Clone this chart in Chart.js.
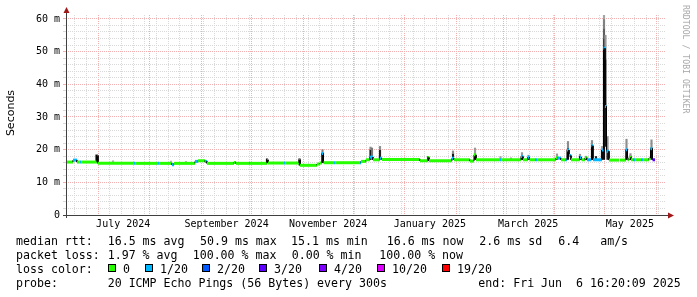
<!DOCTYPE html>
<html>
<head>
<meta charset="utf-8">
<script src="https://cdn.jsdelivr.net/npm/chart.js@4.4.1/dist/chart.umd.min.js"></script>
<style>
  body { margin: 0; background: #fff; }
  #wrap { position: relative; width: 697px; height: 297px; overflow: hidden;
          font-family: 'DejaVu Sans Mono', monospace; font-size: 11.6px; color: #000; }
  #wrap canvas { position: absolute; left: 0; top: 0; }
  .t { position: absolute; white-space: pre; line-height: 14px; }
  .box { position: absolute; width: 6px; height: 6px; border: 1px solid #000; }
  #ylab { position: absolute; left: -13px; top: 106px; width: 48px; height: 14px; line-height: 14px;
          text-align: center; font-family: 'DejaVu Sans', sans-serif; font-size: 11px; color: #000;
          white-space: nowrap; transform: rotate(-90deg); }
  #mark { position: absolute; left: 632px; top: 54px; width: 108px; height: 10px; line-height: 10px;
          text-align: center; font-size: 8.2px; color: #a8a8a8;
          white-space: nowrap; transform: rotate(90deg); }
</style>
</head>
<body>
<div id="wrap">
  <canvas id="chart" width="697" height="297"></canvas>
  <div id="ylab">Seconds</div>
  <div id="mark">RRDTOOL / TOBI OETIKER</div>
  <div id="legend"></div>
</div>
<script>
// x values are days since the start of the graph (360 days ending Fri Jun 6 16:20:09 2025)
const SPAN_DAYS = 360;
const END = Date.UTC(2025, 5, 6, 16, 20, 9);
const START = END - SPAN_DAYS * 86400000;
const dayOf = (y, m, d) => (Date.UTC(y, m, d) - START) / 86400000;

// loss levels (legend + median colouring)
const lossLabels = ['0', '1/20', '2/20', '3/20', '4/20', '10/20', '19/20'];
const lossColors = ['#26ff00', '#00b8ff', '#0059ff', '#5e00ff', '#7e00ff', '#dd00ff', '#ff0000'];

// median rtt (ms) as runs: run starts at runDay[i], lasts until the next one
const runDay = [0, 4.2, 6.6, 8.1, 9.0, 18.6, 19.2, 40.8, 41.4, 55.2, 55.8, 63.6, 64.8,
  77.4, 79.2, 83.4, 84.6, 100.8, 102.0, 109.8, 110.4, 120.6, 121.2, 130.8, 131.4,
  139.8, 140.4, 150.6, 152.4, 153.6, 154.5, 160.8, 161.4, 176.4, 177.0, 180.0, 182.4,
  184.2, 188.4, 189.6, 212.4, 217.2, 217.8, 231.6, 232.8, 242.4, 244.8, 246.0, 260.4,
  261.0, 273.0, 274.2, 277.2, 278.1, 281.4, 282.6, 294.0, 295.2, 297.0, 299.4, 300.6,
  301.8, 303.0, 305.4, 308.4, 309.3, 311.4, 312.6, 315.3, 316.2, 321.6, 322.5, 323.4,
  324.3, 325.8, 331.8, 332.4, 336.0, 336.9, 337.8, 339.0, 340.2, 341.4, 345.0, 346.2,
  349.8, 350.7, 351.9];
const runMs = [16.2, 16.8, 16.2, 16.2, 16.2, 18.2, 15.8, 15.8, 15.8, 15.8, 15.8, 15.4, 15.8,
  16.4, 16.6, 16.4, 15.8, 16.1, 15.8, 15.8, 15.8, 16.9, 15.9, 15.9, 15.9,
  16.9, 15.2, 15.6, 15.9, 18.8, 16.0, 16.0, 16.0, 16.0, 16.4, 16.9, 17.7,
  16.9, 17.4, 17.0, 16.6, 17.6, 16.6, 17.4, 16.9, 16.5, 18.4, 16.9, 16.9,
  16.9, 17.9, 16.9, 17.7, 16.9, 16.9, 16.9, 17.5, 17.4, 16.9, 16.9, 19.9,
  18.2, 16.9, 16.9, 17.6, 16.9, 17.5, 16.9, 21.2, 16.9, 19.9, 51.0, 33.2,
  19.5, 16.8, 16.8, 16.8, 20.0, 16.9, 17.6, 16.9, 16.9, 16.9, 16.9, 16.9,
  17.4, 20.3, 16.9];
const runLoss = [0, 1, 0, 1, 0, 0, 0, 1, 0, 1, 0, 1, 0,
  1, 0, 1, 0, 0, 0, 1, 0, 0, 0, 1, 0,
  1, 0, 0, 0, 1, 0, 1, 0, 1, 0, 0, 1,
  0, 1, 0, 0, 0, 0, 1, 0, 0, 0, 0, 1,
  0, 1, 0, 1, 0, 1, 0, 0, 1, 0, 1, 1,
  1, 0, 0, 1, 0, 0, 1, 1, 1, 1, 1, 1,
  1, 0, 1, 0, 1, 0, 0, 0, 1, 0, 1, 0,
  0, 1, 3];
const dataEndDay = 353.4;

// smoke (spread of the 20 pings): day, low ms, high ms, density 0..1
const smokeDay = [18.3, 28.2, 63.0, 72.0, 120.6, 140.1, 153.9, 153.9, 182.7, 182.7, 183.6,
  188.4, 188.4, 217.2, 232.2, 232.2, 245.4, 245.4, 260.7, 267.0, 273.6, 273.6, 277.5, 277.5,
  294.6, 294.6, 301.2, 301.2, 308.4, 308.4, 312.0, 312.0, 315.6, 315.6, 318.0, 321.6, 321.6,
  322.8, 322.8, 322.8, 322.8, 322.8, 323.7, 323.7, 323.7, 324.9, 324.9, 336.3, 336.3,
  338.7, 338.7, 351.3, 351.3];
const smokeLo = [16.2, 15.8, 15.8, 15.8, 16.0, 15.3, 16.0, 19.0, 17.0, 20.0, 17.0,
  17.0, 20.0, 16.6, 17.0, 18.8, 17.0, 18.8, 16.9, 16.9, 17.0, 17.9, 17.0, 17.7,
  17.0, 17.8, 17.0, 20.5, 17.0, 18.1, 17.0, 17.5, 17.0, 21.5, 17.0, 17.0, 20.0,
  17.0, 51.0, 54.0, 57.0, 60.0, 21.0, 33.0, 47.5, 17.0, 19.5, 17.0, 20.0,
  17.0, 18.1, 17.0, 20.5];
const smokeHi = [18.4, 16.6, 16.5, 16.4, 17.2, 17.2, 19.0, 20.0, 20.0, 20.8, 20.5,
  20.0, 21.0, 17.9, 18.8, 19.6, 18.8, 20.5, 17.9, 17.5, 17.9, 19.1, 17.7, 18.3,
  17.8, 18.7, 20.5, 22.5, 18.1, 18.6, 17.5, 18.0, 21.5, 22.8, 17.9, 20.0, 21.0,
  51.0, 54.0, 57.0, 60.0, 62.0, 33.0, 47.5, 55.0, 19.5, 24.0, 20.0, 23.2,
  18.1, 18.8, 20.5, 23.0];
const smokeDensity = [0.95, 0.25, 0.25, 0.25, 0.9, 0.9, 0.9, 0.45, 0.9, 0.4, 0.5,
  0.85, 0.4, 0.6, 0.9, 0.4, 0.9, 0.35, 0.3, 0.3, 0.9, 0.35, 0.9, 0.35,
  0.85, 0.35, 0.95, 0.4, 0.9, 0.35, 0.85, 0.35, 0.95, 0.4, 0.85, 0.9, 0.3,
  0.95, 0.75, 0.6, 0.45, 0.3, 0.9, 0.7, 0.35, 0.85, 0.4, 0.9, 0.4,
  0.85, 0.35, 0.95, 0.4];

// axis
const yMaxMs = 61.2;
const monthStarts = [[2024, 6], [2024, 7], [2024, 8], [2024, 9], [2024, 10], [2024, 11],
  [2025, 0], [2025, 1], [2025, 2], [2025, 3], [2025, 4], [2025, 5]];
const monthLabels = ['July 2024', 'September 2024', 'November 2024', 'January 2025', 'March 2025', 'May 2025'];
const monthLabelAt = [[2024, 6, 16], [2024, 8, 16], [2024, 10, 16], [2025, 0, 16], [2025, 2, 16], [2025, 4, 16]];

const GRID = '#d9d9d9';
const MGRID = '#f2b0b0';

const medianPts = [];
runDay.forEach((d, i) => {
  const end = i + 1 < runDay.length ? runDay[i + 1] : dataEndDay;
  medianPts.push({ x: d, y: runMs[i], loss: runLoss[i] });
  medianPts.push({ x: end, y: runMs[i], loss: runLoss[i] });
});
const smokePts = smokeDay.map((d, i) => ({ x: d, y: [smokeLo[i], smokeHi[i]] }));
const smokeColor = dens => { const g = Math.round(235 * (1 - dens)); return `rgb(${g},${g},${g})`; };

const xTicks = [];
monthLabelAt.forEach((a, i) => xTicks.push({ value: dayOf(...a), kind: 'l', text: monthLabels[i] }));
for (let d = dayOf(2024, 5, 17); d < SPAN_DAYS; d += 7) xTicks.push({ value: d, kind: 'w' });
monthStarts.forEach(a => xTicks.push({ value: dayOf(a[0], a[1], 1), kind: 'm' }));

const axesPlugin = {
  id: 'rrdAxes',
  afterDraw(chart) {
    const { ctx, chartArea: a } = chart;
    ctx.save();
    ctx.strokeStyle = '#404040';
    ctx.lineWidth = 1;
    ctx.beginPath();
    ctx.moveTo(a.left - 3, a.bottom + 0.5);
    ctx.lineTo(a.right + 4, a.bottom + 0.5);
    ctx.moveTo(a.left + 0.5, a.bottom + 3);
    ctx.lineTo(a.left + 0.5, a.top - 4);
    ctx.stroke();
    ctx.fillStyle = '#a01818';
    ctx.beginPath();
    ctx.moveTo(a.right + 2, a.bottom - 2.5);
    ctx.lineTo(a.right + 8, a.bottom + 0.5);
    ctx.lineTo(a.right + 2, a.bottom + 3.5);
    ctx.fill();
    ctx.beginPath();
    ctx.moveTo(a.left - 2.5, a.top - 2);
    ctx.lineTo(a.left + 0.5, a.top - 8);
    ctx.lineTo(a.left + 3.5, a.top - 2);
    ctx.fill();
    ctx.restore();
  }
};

new Chart(document.getElementById('chart'), {
  type: 'line',
  data: {
    datasets: [{
      type: 'line',
      data: medianPts,
      order: 1,
      pointRadius: 0,
      tension: 0,
      borderWidth: 3,
      borderColor: lossColors[0],
      segment: {
        borderColor: c => c.p0DataIndex % 2 === 0 ? lossColors[medianPts[c.p0DataIndex].loss] : '#000',
        borderWidth: c => c.p0DataIndex % 2 === 0 ? 3 : 1
      }
    }, {
      type: 'bar',
      data: smokePts,
      order: 2,
      barThickness: 1.5,
      borderWidth: 0,
      backgroundColor: c => smokeColor(smokeDensity[c.dataIndex])
    }]
  },
  options: {
    responsive: false,
    animation: false,
    events: [],
    layout: { padding: { top: 15, right: 31, bottom: 62, left: 0 } },
    plugins: { legend: { display: false }, tooltip: { enabled: false } },
    scales: {
      x: {
        type: 'linear', min: 0, max: SPAN_DAYS, offset: false,
        afterBuildTicks: s => { s.ticks = xTicks.map(t => ({ ...t })); },
        afterFit: s => { s.height = 20; },
        grid: {
          offset: false, drawTicks: false,
          color: c => c.tick.kind === 'm' ? MGRID : c.tick.kind === 'w' ? GRID : 'rgba(0,0,0,0)'
        },
        border: { display: false, dash: [1, 1] },
        ticks: {
          autoSkip: false, maxRotation: 0, minRotation: 0, padding: 3, color: '#000',
          font: { family: 'DejaVu Sans Mono', size: 10 },
          callback: (v, i, t) => t[i].text || ''
        }
      },
      y: {
        min: 0, max: yMaxMs,
        afterBuildTicks: s => { const t = []; for (let v = 0; v <= 60; v += 2) t.push({ value: v }); s.ticks = t; },
        afterFit: s => { s.width = 66; },
        grid: {
          drawTicks: true, tickLength: 3,
          color: c => c.tick.value % 10 === 0 ? MGRID : GRID,
          tickColor: c => c.tick.value % 10 === 0 ? MGRID : GRID
        },
        border: { display: false, dash: [1, 1] },
        ticks: {
          autoSkip: false, padding: 3, color: '#000',
          font: { family: 'DejaVu Sans Mono', size: 10 },
          callback: v => v % 10 === 0 ? (v === 0 ? '0' : v + ' m') : ''
        }
      }
    }
  },
  plugins: [axesPlugin]
});

// text legend below the graph
const legendRows = [
  [[16, 'median rtt:'], [107.7, '16.5 ms avg'], [200, '50.9 ms max'], [291, '15.1 ms min'],
   [386.7, '16.6 ms now'], [479.3, '2.6 ms sd'], [558.3, '6.4   am/s']],
  [[16, 'packet loss:'], [107.7, '1.97 % avg'], [192.7, '100.00 % max'], [291.7, '0.00 % min'],
   [379.3, '100.00 % now']],
  [[16, 'loss color:']],
  [[16, 'probe:'], [107.7, '20 ICMP Echo Pings (56 Bytes) every 300s'], [478.3, 'end: Fri Jun  6 16:20:09 2025']]
];
const legendBoxX = [108, 145, 202, 259, 319, 377, 442];
const legend = document.getElementById('legend');
legendRows.forEach((row, r) => {
  row.forEach(([x, txt]) => {
    const s = document.createElement('span');
    s.className = 't';
    s.style.left = x + 'px';
    s.style.top = (234 + r * 14) + 'px';
    s.textContent = txt;
    legend.appendChild(s);
  });
});
lossLabels.forEach((lab, i) => {
  const b = document.createElement('span');
  b.className = 'box';
  b.style.left = legendBoxX[i] + 'px';
  b.style.top = '264px';
  b.style.background = lossColors[i];
  legend.appendChild(b);
  const s = document.createElement('span');
  s.className = 't';
  s.style.left = (legendBoxX[i] + 15) + 'px';
  s.style.top = '262px';
  s.textContent = lab;
  legend.appendChild(s);
});
</script>
</body>
</html>
